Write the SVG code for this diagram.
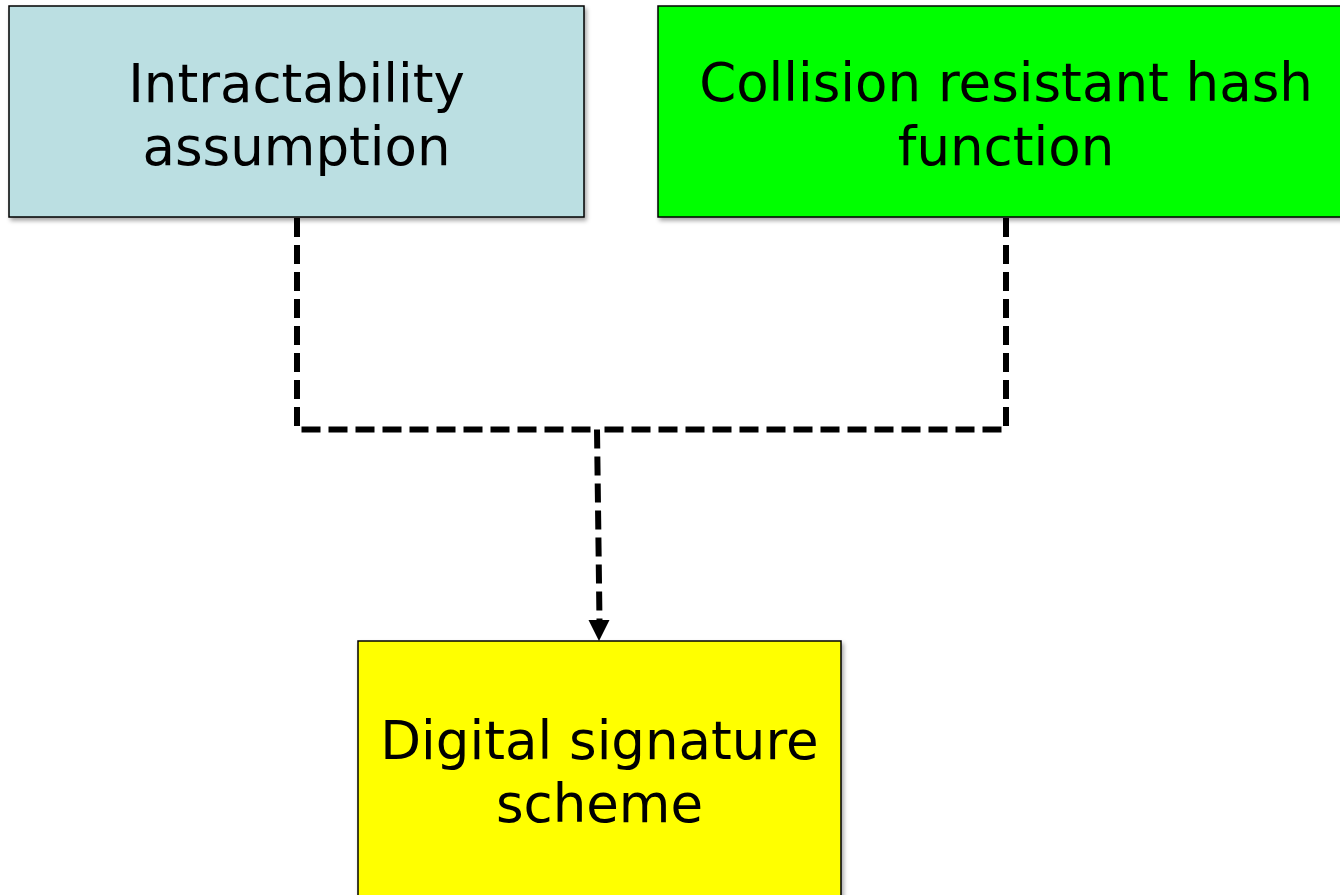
<svg xmlns="http://www.w3.org/2000/svg" width="1340" height="895" viewBox="0 0 1340 895">
<defs>
<filter id="sh" x="-5%" y="-5%" width="112%" height="115%">
<feDropShadow dx="2" dy="3" stdDeviation="2" flood-color="#000" flood-opacity="0.35"/>
</filter>
<style>
.box{stroke:#000;stroke-width:1.5;filter:url(#sh)}
.lbl{font-family:"DejaVu Sans","Verdana",sans-serif;font-size:53px;fill:#000;text-anchor:middle}
.conn{fill:none;stroke:#000;stroke-width:6;stroke-dasharray:19 8}
</style>
</defs>
<rect width="1340" height="895" fill="#fff"/>
<g id="connectors">
<path class="conn" d="M297,218 V429.5 H597"/>
<path class="conn" d="M1006,218 V429.5 H597"/>
<path class="conn" d="M597,429.5 L599.5,621"/>
<path d="M588.5,620 L609.5,620 L599,641 Z" fill="#000"/>
</g>
<g id="n1">
<rect class="box" x="9" y="6" width="575" height="211" fill="#BBDFE2"/>
<text class="lbl" x="296.5" y="102">Intractability</text>
<text class="lbl" x="296.5" y="165">assumption</text>
</g>
<g id="n2">
<rect class="box" x="658" y="6" width="696" height="211" fill="#00FF00"/>
<text class="lbl" x="1006" y="101">Collision resistant hash</text>
<text class="lbl" x="1006" y="165">function</text>
</g>
<g id="n3">
<rect class="box" x="358" y="641" width="483" height="270" fill="#FFFF00"/>
<text class="lbl" x="599.5" y="759">Digital signature</text>
<text class="lbl" x="599.5" y="822">scheme</text>
</g>
</svg>
